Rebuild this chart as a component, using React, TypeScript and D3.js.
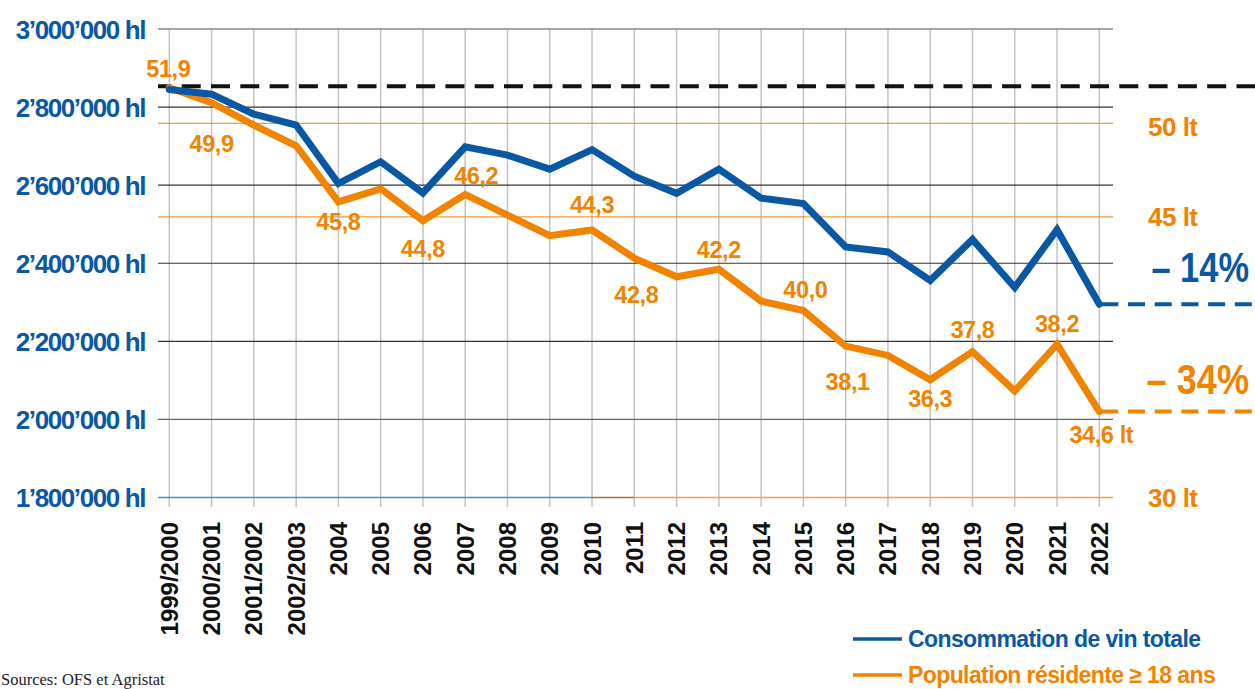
import React from "react";
import * as d3 from "d3";

// wine consumption in Switzerland, total (hl) and per adult resident (lt)
const years = [
  "1999/2000", "2000/2001", "2001/2002", "2002/2003", "2004", "2005", "2006", "2007",
  "2008", "2009", "2010", "2011", "2012", "2013", "2014", "2015", "2016", "2017",
  "2018", "2019", "2020", "2021", "2022",
];
const totalHl = [
  2845000, 2833000, 2782000, 2754000, 2604000, 2660000, 2580000, 2698000,
  2677000, 2641000, 2691000, 2623000, 2579000, 2641000, 2567000, 2553000, 2442000, 2429000,
  2356000, 2461000, 2338000, 2486000, 2295000,
];
const perAdultLt = [
  51.9, 51.1, 49.9, 48.8, 45.8, 46.5, 44.8, 46.2,
  45.1, 44.0, 44.3, 42.8, 41.8, 42.2, 40.5, 40.0, 38.1, 37.6,
  36.3, 37.8, 35.7, 38.2, 34.6,
];
const hlTicks = [1800000, 2000000, 2200000, 2400000, 2600000, 2800000, 3000000];
const ltTicks = [30, 45, 50];
// labelled points of the per-adult series
const labelIdx = [0, 1, 4, 6, 7, 10, 11, 13, 15, 16, 18, 19, 21, 22];
const labelText = ["51,9", "49,9", "45,8", "44,8", "46,2", "44,3", "42,8", "42,2", "40,0", "38,1", "36,3", "37,8", "38,2", "34,6 lt"];
const changeText = ["\u2013 14%", "\u2013 34%"];
const seriesNames = ["Consommation de vin totale", "Population r\u00e9sidente \u2265 18 ans"];
const source = "Sources: OFS et Agristat";

// label offsets from their point (dx, dy to text centre)
const labelOff = [
  [-1, -19], [0, 41], [0, 20], [0, 28], [11, -19], [0, -25], [2, 37],
  [0, -20], [2, -21], [2, 36], [0, 19], [0, -22], [0, -20], [2, 23],
];

const BLUE = "#0a58a4";
const ORANGE = "#f08300";
const FONT = "'Liberation Sans', Arial, sans-serif";

const fmtHl = (v: number) => d3.format(",")(v).replace(/,/g, "\u2019") + " hl";

export default function App() {
  const W = 1255, H = 689;
  const x = d3.scalePoint<string>().domain(years).range([169.3, 1099.3]);
  const yL = d3.scaleLinear().domain([1800000, 3000000]).range([497.5, 29]);
  const yR = d3.scaleLinear().domain([30, 50]).range([497.7, 123.3]);
  const gx0 = 158, gx1 = 1113;

  const lineHl = d3.line<number>().x((_, i) => x(years[i])!).y((d) => yL(d));
  const lineLt = d3.line<number>().x((_, i) => x(years[i])!).y((d) => yR(d));

  const last = years.length - 1;
  const xLast = x(years[last])!;
  const yBlueEnd = yL(totalHl[last]);
  const yOrangeEnd = yR(perAdultLt[last]);
  const yStart = yR(perAdultLt[0]) - 1.5;

  return (
    <svg width={W} height={H} style={{ position: "absolute", left: 0, top: 0, background: "#fff" }} fontFamily={FONT}>
      {/* vertical grid */}
      {years.map((yr) => (
        <line key={yr} x1={x(yr)} x2={x(yr)} y1={29} y2={507} stroke="#c4c4c4" strokeWidth={1.5} />
      ))}
      {/* horizontal grid (hl) */}
      {hlTicks.slice(1).map((t, i) => (
        <line key={t} x1={gx0} x2={gx1} y1={yL(t)} y2={yL(t)}
          stroke={t === 3000000 ? "#888" : i === 0 ? "#666" : "#333"} strokeWidth={t === 3000000 ? 1.5 : 1.2} />
      ))}
      {/* orange grid (lt) */}
      {ltTicks.slice(1).map((t) => (
        <line key={t} x1={gx0} x2={gx1} y1={yR(t)} y2={yR(t)} stroke={ORANGE} strokeOpacity={0.8} strokeWidth={1.2} />
      ))}
      {/* baseline, half blue half orange */}
      <line x1={gx0} x2={x("2010")} y1={yL(1800000)} y2={yL(1800000)} stroke="#4a8ed0" strokeWidth={1.5} />
      <line x1={x("2010")} x2={x("2011")} y1={yL(1800000)} y2={yL(1800000)} stroke="#a07040" strokeWidth={1.5} />
      <line x1={x("2011")} x2={gx1} y1={yL(1800000)} y2={yL(1800000)} stroke="#f5a43c" strokeWidth={1.5} />

      {/* reference level 1999/2000 */}
      <line x1={gx0} x2={W} y1={yStart} y2={yStart} stroke="#111" strokeWidth={4} strokeDasharray="19 10.3" strokeDashoffset={5.6} />
      {/* end levels */}
      <line x1={xLast + 2} x2={W} y1={yBlueEnd} y2={yBlueEnd} stroke={BLUE} strokeWidth={4} strokeDasharray="17 9.7" />
      <line x1={xLast + 2} x2={W} y1={yOrangeEnd} y2={yOrangeEnd} stroke={ORANGE} strokeWidth={4} strokeDasharray="17 9.7" />

      <path d={lineLt(perAdultLt)!} fill="none" stroke={ORANGE} strokeWidth={7} strokeLinejoin="miter" strokeLinecap="round" />
      <path d={lineHl(totalHl)!} fill="none" stroke={BLUE} strokeWidth={7} strokeLinejoin="miter" strokeLinecap="round" />

      {/* left axis */}
      {hlTicks.map((t) => (
        <text key={t} x={145} y={yL(t) + 9.5} textAnchor="end" fontSize={26} fontWeight="bold" fill={BLUE} letterSpacing={-1.4}>
          {fmtHl(t)}
        </text>
      ))}
      {/* right axis */}
      {ltTicks.map((t) => (
        <text key={t} x={1148} y={yR(t) + (t === 50 ? 13 : 9.5)} fontSize={26} fontWeight="bold" fill={ORANGE} letterSpacing={-0.5}>
          {t} lt
        </text>
      ))}
      {/* x axis */}
      {years.map((yr) => (
        <text key={yr} transform={`translate(${x(yr)! + 8.5},522) rotate(-90)`} textAnchor="end" fontSize={24} fontWeight="bold" fill="#111">
          {yr}
        </text>
      ))}

      {/* point labels */}
      {labelIdx.map((i, k) => (
        <text key={k} x={x(years[i])! + labelOff[k][0]} y={yR(perAdultLt[i]) + labelOff[k][1] + 8.3}
          textAnchor="middle" fontSize={23.5} fontWeight="bold" fill={ORANGE} letterSpacing={-0.4}>
          {labelText[k]}
        </text>
      ))}

      {/* change labels, condensed */}
      <text transform={`translate(1249,${yBlueEnd - 22}) scale(0.82,1)`} textAnchor="end" fontSize={42} fontWeight="bold" fill={BLUE}>
        {changeText[0]}
      </text>
      <text transform={`translate(1249,${yOrangeEnd - 18}) scale(0.86,1)`} textAnchor="end" fontSize={42} fontWeight="bold" fill={ORANGE}>
        {changeText[1]}
      </text>

      {/* legend */}
      {[BLUE, ORANGE].map((c, i) => (
        <g key={c} transform={`translate(853,${639 + i * 36})`}>
          <line x1={0} x2={49} y1={0} y2={0} stroke={c} strokeWidth={3.5} />
          <text x={55} y={8.3} fontSize={23} fontWeight="bold" fill={c} letterSpacing={-0.6}>
            {seriesNames[i]}
          </text>
        </g>
      ))}

      <text x={1} y={685} fontFamily="'Liberation Serif', serif" fontSize={16.5} fill="#222">
        {source}
      </text>
    </svg>
  );
}
